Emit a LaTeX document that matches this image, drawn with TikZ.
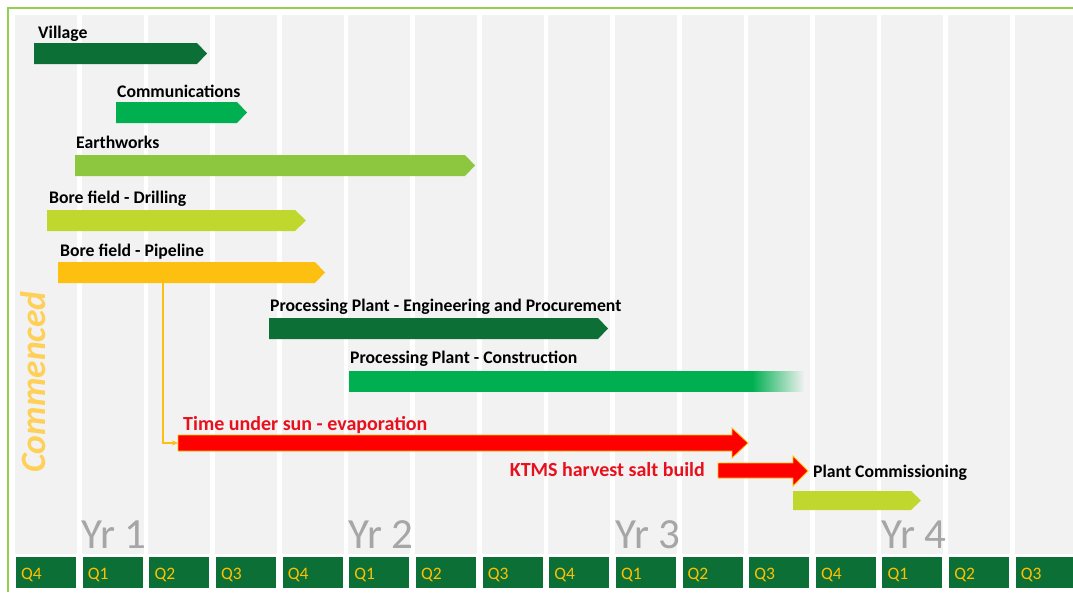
\documentclass[tikz,border=0pt]{standalone}
\usepackage{fontspec}
\setmainfont{Carlito}
\usetikzlibrary{arrows.meta, fadings}

\definecolor{darkbar}{RGB}{12,112,54}
\definecolor{midbar}{RGB}{0,176,80}
\definecolor{earthbar}{RGB}{141,198,63}
\definecolor{limebar}{RGB}{192,216,46}
\definecolor{amberbar}{RGB}{253,192,16}
\definecolor{redbar}{RGB}{255,0,0}
\definecolor{redtext}{RGB}{232,16,28}
\definecolor{framegreen}{RGB}{146,208,80}
\definecolor{colgrey}{RGB}{242,242,242}
\definecolor{yeargrey}{RGB}{166,166,166}
\definecolor{qgold}{RGB}{255,192,0}
\definecolor{commenced}{RGB}{255,208,88}

\begin{document}
\begin{tikzpicture}[x=1pt,y=-1pt,
    tasklabel/.style={anchor=base west, inner sep=0pt, font=\bfseries\fontsize{17.7}{20}\selectfont},
    redlabel/.style={inner sep=0pt, text=redtext, font=\bfseries\fontsize{20}{24}\selectfont},
    yearlabel/.style={anchor=base west, inner sep=0pt, text=yeargrey, font=\fontsize{43}{46}\selectfont},
    qlabel/.style={anchor=base west, inner sep=0pt, text=qgold, font=\fontsize{17.5}{19}\selectfont},
    redarrow/.style={fill=redbar, draw=qgold, line width=0.8pt},
    link/.style={draw=amberbar, line width=1.3pt, -{Stealth[length=6pt,width=5pt]}}]
    \useasboundingbox (0,0) rectangle (1073,592);
    \fill[white] (0,0) rectangle (1073,592);

    % Quarters
    \foreach \q [count=\i from 0] in {Q4,Q1,Q2,Q3,Q4,Q1,Q2,Q3,Q4,Q1,Q2,Q3,Q4,Q1,Q2,Q3} {
        \fill[colgrey] (15+66.65*\i,15) rectangle +(62,539);
        \fill[darkbar] (16+66.65*\i,557) rectangle +(60,31);
        \node[qlabel] (q\i) at (21+66.65*\i,579) {\q};
    }

    % Frame
    \draw[framegreen, line width=2.5pt] (8,592) -- (8,8) -- (1073,8);

    % Years
    \node[yearlabel] (yr1) at (81,548) {Yr 1};
    \node[yearlabel] (yr2) at (348,548) {Yr 2};
    \node[yearlabel] (yr3) at (615,548) {Yr 3};
    \node[yearlabel] (yr4) at (881,548) {Yr 4};

    \node[rotate=90, text=commenced, font=\bfseries\itshape\fontsize{35.5}{38}\selectfont] (commenced) at (33,382) {Commenced};

    % Village
    \fill[darkbar] (34,43) -- (197,43) -- (207,53.5) -- (197,64) -- (34,64) -- cycle;
    \node[tasklabel] (village) at (38,38) {Village};

    % Communications
    \fill[midbar] (116,102) -- (237,102) -- (247,112.5) -- (237,123) -- (116,123) -- cycle;
    \node[tasklabel] (comms) at (117,97) {Communications};

    % Earthworks
    \fill[earthbar] (75,155) -- (465,155) -- (475,165.5) -- (465,176) -- (75,176) -- cycle;
    \node[tasklabel] (earthworks) at (76,148) {Earthworks};

    % Bore field
    \fill[limebar] (47,210) -- (295,210) -- (306,220.5) -- (295,231) -- (47,231) -- cycle;
    \node[tasklabel] (drilling) at (49,203) {Bore field - Drilling};
    \fill[amberbar] (58,262) -- (315,262) -- (325,272.5) -- (315,283) -- (58,283) -- cycle;
    \node[tasklabel] (pipeline) at (60,256) {Bore field - Pipeline};
    \coordinate (pipe-drop) at (163,283);

    % Processing plant
    \fill[darkbar] (269,318) -- (598,318) -- (608,328.5) -- (598,339) -- (269,339) -- cycle;
    \node[tasklabel] (engineering) at (270,311) {Processing Plant - Engineering and Procurement};
    \fill[midbar] (349,371) rectangle (752,392);
    \fill[midbar, path fading=east] (752,371) rectangle (804,392);
    \node[tasklabel] (construction) at (350,363) {Processing Plant - Construction};

    % Evaporation
    \draw[redarrow] (178,435) -- (732,435) -- (732,428) -- (748,443) -- (732,458) -- (732,451) -- (178,451) -- cycle;
    \coordinate (sun-tail) at (178,443);
    \node[redlabel, anchor=base west] (sun) at (183,430) {Time under sun - evaporation};
    \draw[link] (pipe-drop) |- (sun-tail);

    % Salt build
    \draw[redarrow] (718,463) -- (793,463) -- (793,456) -- (808,471) -- (793,486) -- (793,478) -- (718,478) -- cycle;
    \node[redlabel, anchor=base east] (ktms) at (705,476) {KTMS harvest salt build};

    % Commissioning
    \fill[limebar] (793,491) -- (911,491) -- (921,500.5) -- (911,510) -- (793,510) -- cycle;
    \node[tasklabel] (commissioning) at (813,477) {Plant Commissioning};
\end{tikzpicture}
\end{document}
